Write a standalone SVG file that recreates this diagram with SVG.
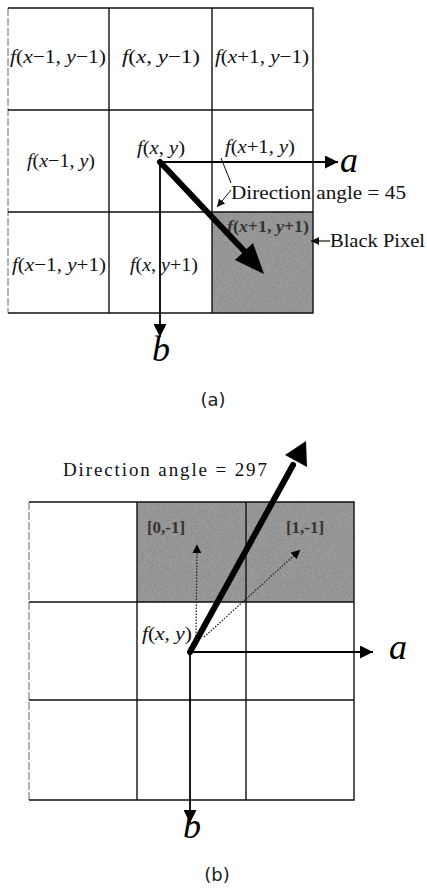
<svg xmlns="http://www.w3.org/2000/svg" width="427" height="889" viewBox="0 0 427 889">
<style>
.grid{stroke:#111;stroke-width:1.4;fill:none}
.edge{stroke:#666;stroke-width:1;stroke-dasharray:8 2;fill:none}
.lbl{font-family:"Liberation Serif",serif;font-size:19px;fill:#111}
.it{font-style:italic}
.axis{stroke:#000;stroke-width:1.8;fill:none}
.big{font-family:"Liberation Serif",serif;font-style:italic;font-size:36px;fill:#000}
.cap{font-family:"DejaVu Sans","Liberation Sans",sans-serif;font-size:18px;fill:#222}
.dot{stroke:#222;stroke-width:1.3;stroke-dasharray:1.5 1.5;fill:none}
.shd{font-family:"Liberation Serif",serif;font-weight:bold;font-size:17px;fill:#333}
</style>
<defs>
<filter id="noise" x="0" y="0" width="1" height="1">
<feTurbulence type="fractalNoise" baseFrequency="1.2" numOctaves="1" seed="5" result="t"/>
<feColorMatrix in="t" type="matrix" values="0 0 0 0 0.25  0 0 0 0 0.25  0 0 0 0 0.25  3 0 0 0 -1.2"/>
</filter>
<marker id="ah" viewBox="0 0 10 10" refX="10" refY="5" markerWidth="16" markerHeight="13" markerUnits="userSpaceOnUse" orient="auto"><path d="M0,0 L10,5 L0,10 Z" fill="#000"/></marker>
<marker id="ahs" viewBox="0 0 10 10" refX="10" refY="5" markerWidth="8" markerHeight="8" markerUnits="userSpaceOnUse" orient="auto"><path d="M0,0 L10,5 L0,10 Z" fill="#111"/></marker>
<marker id="ahb" viewBox="0 0 10 10" refX="8" refY="5" markerWidth="7" markerHeight="7" orient="auto"><path d="M0,0 L10,5 L0,10 Z" fill="#000"/></marker>
</defs>

<!-- ===== (a) ===== -->
<g id="a-shade">
<rect x="212" y="212" width="101" height="101" fill="#9c9c9c"/>
<rect x="212" y="212" width="101" height="101" filter="url(#noise)"/>
</g>
<g id="a-grid">
<line class="edge" x1="8" y1="8" x2="8" y2="313"/>
<path class="grid" d="M8,8 H313 V313 H8 M109,8 V313 M212,8 V313 M8,110 H313 M8,212 H313"/>
</g>
<g id="a-c1"><text class="lbl" x="58" y="63" text-anchor="middle" textLength="96" lengthAdjust="spacingAndGlyphs"><tspan class="it">f</tspan>(<tspan class="it">x</tspan>−1, <tspan class="it">y</tspan>−1)</text></g>
<g id="a-c2"><text class="lbl" x="161" y="63" text-anchor="middle" textLength="78" lengthAdjust="spacingAndGlyphs"><tspan class="it">f</tspan>(<tspan class="it">x</tspan>, <tspan class="it">y</tspan>−1)</text></g>
<g id="a-c3"><text class="lbl" x="262" y="63" text-anchor="middle" textLength="94" lengthAdjust="spacingAndGlyphs"><tspan class="it">f</tspan>(<tspan class="it">x</tspan>+1, <tspan class="it">y</tspan>−1)</text></g>
<g id="a-c4"><text class="lbl" x="61" y="167" text-anchor="middle" textLength="68" lengthAdjust="spacingAndGlyphs"><tspan class="it">f</tspan>(<tspan class="it">x</tspan>−1, <tspan class="it">y</tspan>)</text></g>
<g id="a-c5"><text class="lbl" x="161" y="154" text-anchor="middle" textLength="48" lengthAdjust="spacingAndGlyphs"><tspan class="it">f</tspan>(<tspan class="it">x</tspan>, <tspan class="it">y</tspan>)</text></g>
<g id="a-c6"><text class="lbl" x="260" y="153" text-anchor="middle" textLength="70" lengthAdjust="spacingAndGlyphs"><tspan class="it">f</tspan>(<tspan class="it">x</tspan>+1, <tspan class="it">y</tspan>)</text></g>
<g id="a-c7"><text class="lbl" x="59" y="271" text-anchor="middle" textLength="94" lengthAdjust="spacingAndGlyphs"><tspan class="it">f</tspan>(<tspan class="it">x</tspan>−1, <tspan class="it">y</tspan>+1)</text></g>
<g id="a-c8"><text class="lbl" x="164" y="271" text-anchor="middle" textLength="68" lengthAdjust="spacingAndGlyphs"><tspan class="it">f</tspan>(<tspan class="it">x</tspan>, <tspan class="it">y</tspan>+1)</text></g>
<g id="a-c9"><text class="shd" x="268" y="232" text-anchor="middle" textLength="82" lengthAdjust="spacingAndGlyphs"><tspan class="it">f</tspan>(<tspan class="it">x</tspan>+1, <tspan class="it">y</tspan>+1)</text></g>

<g id="a-connectors">
<line class="axis" x1="160" y1="162" x2="338" y2="162" marker-end="url(#ah)"/>
<line class="axis" x1="160" y1="162" x2="160" y2="337" marker-end="url(#ah)"/>
<line x1="160" y1="162" x2="248" y2="255" stroke="#000" stroke-width="6" stroke-linecap="round"/>
<path d="M264,274 L235,260 L253,243 Z" fill="#000"/>
<polyline points="221,158 231,183" stroke="#111" stroke-width="1" fill="none"/>
<line x1="231" y1="190" x2="217" y2="207" stroke="#111" stroke-width="1" marker-end="url(#ahs)"/>
<line x1="330" y1="241" x2="311" y2="241" stroke="#111" stroke-width="1.2" marker-end="url(#ahs)"/>
</g>
<g id="a-labels">
<text class="big" x="340" y="172">a</text>
<text class="big" x="152" y="361">b</text>
<text class="lbl" x="231" y="199" font-size="21" textLength="175" lengthAdjust="spacingAndGlyphs">Direction angle = 45</text>
<text class="lbl" x="330" y="247" font-size="21" textLength="95" lengthAdjust="spacingAndGlyphs">Black Pixel</text>
<text class="cap" x="213" y="406" text-anchor="middle">(a)</text>
</g>

<!-- ===== (b) ===== -->
<g id="b-shade">
<rect x="137" y="502" width="217" height="100" fill="#9c9c9c"/>
<rect x="137" y="502" width="217" height="100" filter="url(#noise)"/>
</g>
<g id="b-grid">
<line class="edge" x1="29" y1="502" x2="29" y2="800"/>
<path class="grid" d="M29,502 H354 V800 H29 M137,502 V800 M246,502 V800 M29,602 H354 M29,700 H354"/>
</g>
<g id="b-cells">
<text class="shd" x="166" y="533" text-anchor="middle">[0,-1]</text>
<text class="shd" x="305" y="533" text-anchor="middle">[1,-1]</text>
<text class="lbl" x="142" y="640" font-size="16" textLength="50" lengthAdjust="spacingAndGlyphs"><tspan class="it">f</tspan>(<tspan class="it">x</tspan>, <tspan class="it">y</tspan>)</text>
</g>
<g id="b-connectors">
<line class="dot" x1="196" y1="636" x2="197" y2="546" marker-end="url(#ahb)"/>
<line class="dot" x1="204" y1="637" x2="299" y2="551" marker-end="url(#ahb)"/>
<line class="axis" x1="190" y1="652" x2="373" y2="652" marker-end="url(#ah)"/>
<line class="axis" x1="190" y1="652" x2="190" y2="823" marker-end="url(#ah)"/>
<line x1="190" y1="652" x2="293" y2="465" stroke="#000" stroke-width="6" stroke-linecap="round"/>
<path d="M306,441 L307,467 L285,455 Z" fill="#000"/>
</g>
<g id="b-labels">
<text class="lbl" x="63" y="476" font-size="20" textLength="204">Direction angle  =  297</text>
<text class="big" x="389" y="659" font-size="32">a</text>
<text class="big" x="183" y="838" font-size="34">b</text>
<text class="cap" x="217" y="881" text-anchor="middle">(b)</text>
</g>
</svg>
